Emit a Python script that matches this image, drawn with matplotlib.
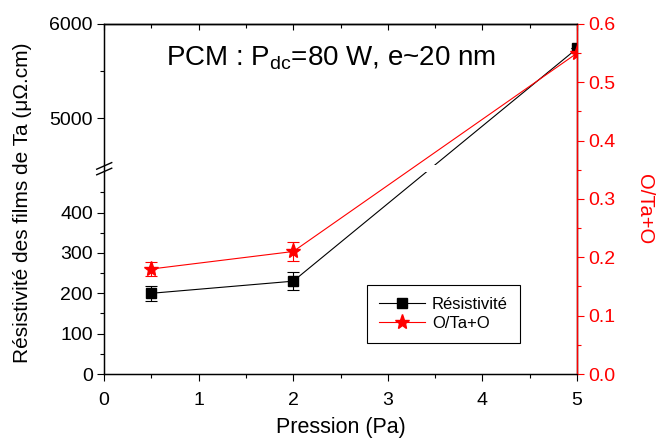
import numpy as np
import matplotlib
matplotlib.use("Agg")
import matplotlib.pyplot as plt
from matplotlib.ticker import FixedLocator, FormatStrFormatter
from matplotlib.lines import Line2D

plt.rcParams['font.family'] = ['Liberation Sans', 'DejaVu Sans']
plt.rcParams['mathtext.fontset'] = 'custom'
plt.rcParams['mathtext.rm'] = 'Liberation Sans'

# data
pression = [0.5, 2, 5]
resist = [200, 230, 5740]
resist_err = [19, 22, 0]
o_ratio = [0.18, 0.21, 0.55]
o_err = [0.012, 0.016, 0]

left_major = [0, 100, 200, 300, 400, 5000, 6000]
left_minor = [50, 150, 250, 350, 450, 5500]
x_major = [0, 1, 2, 3, 4, 5]
right_major = [0.0, 0.1, 0.2, 0.3, 0.4, 0.5, 0.6]

# broken axis: linear up to L, short gap, then compressed above U
L, U = 500.0, 4500.0
g = 17.4
r = 0.094 / 0.403


def fwd(v):
    v = np.asarray(v, dtype=float)
    return np.where(v <= L, v,
                    np.where(v < U, L + (v - L) * g / (U - L),
                             L + g + (v - U) * r))


def inv(t):
    t = np.asarray(t, dtype=float)
    return np.where(t <= L, t,
                    np.where(t < L + g, L + (t - L) * (U - L) / g,
                             U + (t - L - g) / r))


fig = plt.figure(figsize=(6.59, 4.40), dpi=100)
ax = fig.add_axes([104 / 659, 66 / 440, 473 / 659, 350 / 440])
ax.set_yscale('function', functions=(fwd, inv))
ax.set_xlim(0, 5)
ax.set_ylim(0, 6000)

ax.errorbar(pression, resist, yerr=resist_err, color='black', lw=0.8,
            marker='s', ms=7, capsize=4, elinewidth=0.8, capthick=0.8,
            zorder=2)
# gap in the black line where the axis is broken
ax.axhspan(L, U, xmin=0.02, xmax=0.98, color='white', zorder=2.2, lw=0)

ax.yaxis.set_major_locator(FixedLocator(left_major))
ax.yaxis.set_minor_locator(FixedLocator(left_minor))
ax.set_xticks(x_major)
ax.set_xticks(np.arange(0.5, 5, 1.0), minor=True)
ax.tick_params(axis='y', which='major', direction='out', length=5, width=0.8,
               labelsize=14, pad=3)
ax.tick_params(axis='y', which='minor', direction='out', length=3, width=0.8)
ax.tick_params(axis='x', which='major', direction='out', length=5, width=0.8,
               labelsize=14, pad=8)
ax.tick_params(axis='x', which='minor', direction='out', length=3, width=0.8)
for s in ax.spines.values():
    s.set_linewidth(1.0)
ax.set_xlabel('Pression (Pa)', fontsize=15.5, labelpad=6)
ax.set_ylabel('Résistivité des films de Ta (μΩ.cm)', fontsize=15)
ax.yaxis.set_label_coords(-0.152, 0.49)

# top axis with inward ticks
top = ax.secondary_xaxis('top')
top.set_xticks(x_major)
top.set_xticks(np.arange(0.5, 5, 1.0), minor=True)
top.tick_params(axis='x', which='major', direction='in', length=4, width=0.8,
                labeltop=False)
top.tick_params(axis='x', which='minor', direction='in', length=3, width=0.8)
top.spines['top'].set_linewidth(1.0)

# break marks on the left spine
ymid = ax.transAxes.inverted().transform(
    ax.transData.transform((0, (L + U) / 2)))[1]
for dy in (-0.008, 0.008):
    ax.plot([-0.0154, 0.0163], [ymid + dy - 0.0094, ymid + dy + 0.0094],
            transform=ax.transAxes, color='black', lw=1.0, clip_on=False,
            zorder=5)

ax2 = ax.twinx()
ax2.set_ylim(0, 0.6)
ax2.errorbar(pression, o_ratio, yerr=o_err, color='red', lw=0.8,
             marker='*', ms=11, capsize=4, elinewidth=0.8, capthick=0.8)
ax2.set_yticks(right_major)
ax2.set_yticks(np.arange(0.05, 0.6, 0.1), minor=True)
ax2.yaxis.set_major_formatter(FormatStrFormatter('%.1f'))
ax2.tick_params(axis='y', which='major', direction='out', length=5,
                width=0.8, labelsize=14, colors='red', pad=3)
ax2.tick_params(axis='y', which='minor', direction='out', length=3,
                width=0.8, colors='red')
ax2.spines['right'].set_color('red')
ax2.spines['right'].set_linewidth(1.0)
ax2.set_ylabel('O/Ta+O', color='red', fontsize=14.5, rotation=270)
ax2.yaxis.set_label_coords(1.163, 0.47)

ax.text(0.48, 0.883, r'PCM : P$_{\mathregular{dc}}$=80 W, e~20 nm',
        transform=ax.transAxes, ha='center', va='baseline', fontsize=20)

handles = [
    Line2D([], [], color='black', lw=0.8, marker='s', ms=7),
    Line2D([], [], color='red', lw=0.8, marker='*', ms=11),
]
leg = ax2.legend(handles, ['Résistivité', 'O/Ta+O'], loc='lower left',
                 bbox_to_anchor=(0.556, 0.0886), borderaxespad=0,
                 fontsize=12, fancybox=False, edgecolor='black',
                 framealpha=1, handlelength=2.8, handletextpad=0.4,
                 borderpad=0.7, labelspacing=0.25)
leg.get_frame().set_linewidth(0.8)

fig.savefig('out.png', dpi=100)
